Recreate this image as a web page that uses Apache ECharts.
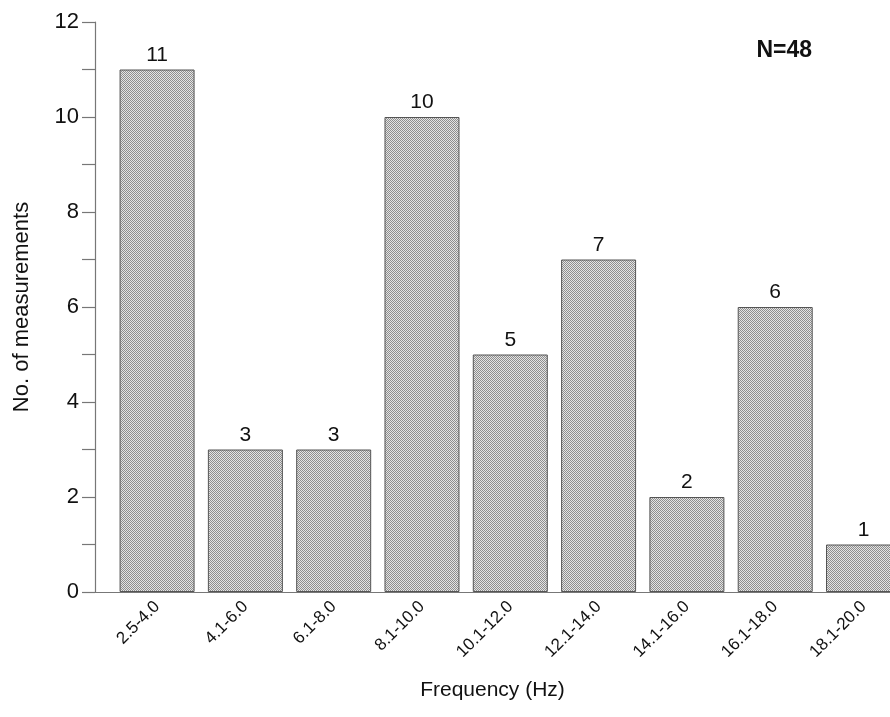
<!DOCTYPE html>
<html>
<head>
<meta charset="utf-8">
<script src="https://cdn.jsdelivr.net/npm/echarts@6/dist/echarts.min.js"></script>
<style>html,body{margin:0;padding:0;background:#fff;}#c{width:890px;height:717px;}</style>
</head>
<body>
<div id="c"></div>
<script>
var categories = ['2.5-4.0','4.1-6.0','6.1-8.0','8.1-10.0','10.1-12.0','12.1-14.0','14.1-16.0','16.1-18.0','18.1-20.0'];
var counts = [11, 3, 3, 10, 5, 7, 2, 6, 1];
var yTicks = [0, 2, 4, 6, 8, 10, 12];
var totalLabel = 'N=48';

var chart = echarts.init(document.getElementById('c'), null, {renderer: 'canvas'});
var font = 'Liberation Sans, Arial, sans-serif';
var barData = counts.map(function (v, i) { return [i, v]; });

// fine checker fill pattern (style only)
var pat = document.createElement('canvas');
pat.width = 2; pat.height = 2;
var pc = pat.getContext('2d');
pc.fillStyle = '#e4e4e4'; pc.fillRect(0, 0, 2, 2);
pc.fillStyle = '#8e8e8e'; pc.fillRect(0, 0, 1, 1); pc.fillRect(1, 1, 1, 1);

chart.setOption({
  animation: false,
  backgroundColor: '#fff',
  grid: {left: 95, right: 0, top: 22, bottom: 125, containLabel: false},
  title: {
    text: totalLabel, right: 73, top: 34,
    textStyle: {fontFamily: font, fontSize: 23, fontWeight: 'bold', color: '#111'}
  },
  xAxis: {
    type: 'value', min: -0.703, max: 8.30,
    axisLine: {show: true, onZero: false, lineStyle: {color: '#777', width: 1.2}},
    axisTick: {show: false},
    splitLine: {show: false},
    axisLabel: {
      customValues: categories.map(function (c, i) { return i; }),
      formatter: function (v) { return categories[Math.round(v)] || ''; },
      rotate: 45, margin: 12, fontFamily: font, fontSize: 17, color: '#111'
    },
    name: 'Frequency (Hz)', nameLocation: 'middle', nameGap: 88,
    nameTextStyle: {fontFamily: font, fontSize: 21, color: '#111'}
  },
  yAxis: {
    type: 'value', min: 0, max: 12, interval: 1,
    axisLine: {show: true, onZero: false, lineStyle: {color: '#777', width: 1.2}},
    axisTick: {show: true, inside: false, length: 13, lineStyle: {color: '#777', width: 1.2}},
    splitLine: {show: false},
    axisLabel: {
      margin: 16, fontFamily: font, fontSize: 22, color: '#111',
      formatter: function (v) { return yTicks.indexOf(v) >= 0 ? String(v) : ''; }
    },
    name: 'No. of measurements', nameLocation: 'middle', nameGap: 62,
    nameTextStyle: {fontFamily: font, fontSize: 22, color: '#111'}
  },
  series: [{
    type: 'bar',
    data: barData,
    barWidth: 75,
    clip: true,
    itemStyle: {
      color: {image: pat, repeat: 'repeat'},
      borderColor: '#555',
      borderWidth: 1
    },
    label: {
      show: true, position: 'top', distance: 4,
      fontFamily: font, fontSize: 21, color: '#111',
      formatter: function (p) { return p.value[1]; }
    }
  }]
});
</script>
</body>
</html>
